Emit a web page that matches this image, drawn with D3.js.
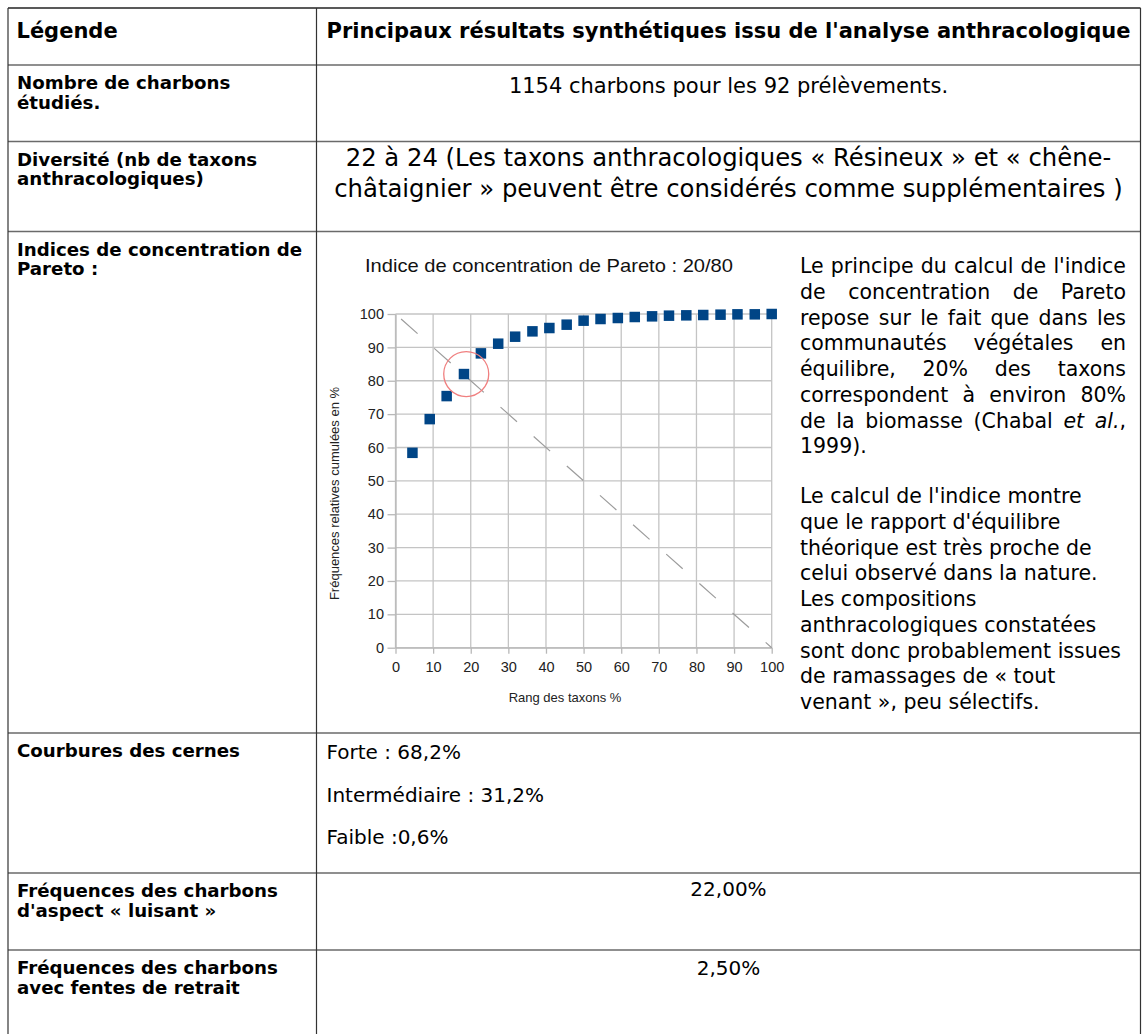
<!DOCTYPE html>
<html>
<head>
<meta charset="utf-8">
<script src="https://cdn.jsdelivr.net/npm/d3@7"></script>
<style>
  body { margin: 0; background: #fff; }
  svg { display: block; }
  .cell text { font-family: "DejaVu Sans", Verdana, sans-serif; fill: #000; }
  .chart text { font-family: "Liberation Sans", Arial, sans-serif; }
</style>
</head>
<body>
<svg id="page" width="1143" height="1034"></svg>
<script>
// Pareto curve
const rankPct = [4.5, 9.1, 13.6, 18.2, 22.7, 27.3, 31.8, 36.4, 40.9, 45.5, 50,
  54.5, 59.1, 63.6, 68.2, 72.7, 77.3, 81.8, 86.4, 90.9, 95.5, 100];
const cumFreq = [58.4, 68.5, 75.4, 82.0, 88.2, 91.1, 93.2, 94.8, 95.8, 96.8, 98.0,
  98.5, 98.8, 99.1, 99.3, 99.5, 99.6, 99.7, 99.8, 99.9, 99.9, 100];
const xTicks = [0, 10, 20, 30, 40, 50, 60, 70, 80, 90, 100];
const yTicks = [0, 10, 20, 30, 40, 50, 60, 70, 80, 90, 100];
const equalLine = [{ x: 0, y: 100 }, { x: 100, y: 0 }];
const highlight = { x: 18.8, y: 82 };

const chartTitle = 'Indice de concentration de Pareto : 20/80';
const xTitle = 'Rang des taxons %';
const yTitle = 'Fréquences relatives cumulées en %';

// table text
const headers = ['Légende', "Principaux résultats synthétiques issu de l'analyse anthracologique"];
const rowLabels = [
  ['Nombre de charbons', 'étudiés.'],
  ['Diversité (nb de taxons', 'anthracologiques)'],
  ['Indices de concentration de', 'Pareto :'],
  ['Courbures des cernes'],
  ['Fréquences des charbons', "d'aspect « luisant »"],
  ['Fréquences des charbons', 'avec fentes de retrait'],
];
const countText = '1154 charbons pour les 92 prélèvements.';
const diversityLines = [
  '22 à 24 (Les taxons anthracologiques « Résineux » et « chêne-',
  'châtaignier » peuvent être considérés comme supplémentaires )',
];
const ringCurvature = ['Forte : 68,2%', 'Intermédiaire : 31,2%', 'Faible :0,6%'];
const shinyFreq = '22,00%';
const crackFreq = '2,50%';
// _x_ marks italic
const noteJustified = [
  "Le principe du calcul de l'indice",
  'de concentration de Pareto',
  'repose sur le fait que dans les',
  'communautés végétales en',
  'équilibre, 20% des taxons',
  'correspondent à environ 80%',
  'de la biomasse (Chabal _et_ _al._,',
];
const noteLast = '1999).';
const note2 = [
  "Le calcul de l'indice montre",
  "que le rapport d'équilibre",
  'théorique est très proche de',
  'celui observé dans la nature.',
  'Les compositions',
  'anthracologiques constatées',
  'sont donc probablement issues',
  'de ramassages de « tout',
  'venant », peu sélectifs.',
];

const svg = d3.select('#page');

// ---- table grid ----
const left = 8, right = 1140.5, colX = 316.5;
const rowLines = [8, 65, 141.5, 231.5, 733, 873, 950];
const cellX = colX + 10;
const midX = (colX + right) / 2;

const grid = svg.append('g');
grid.selectAll('line.row').data(rowLines).join('line')
  .attr('x1', left).attr('x2', right)
  .attr('y1', d => d).attr('y2', d => d)
  .attr('stroke', (d, i) => i === 0 ? '#222' : '#6a6a6a')
  .attr('stroke-width', (d, i) => i === 0 ? 1.3 : 1.6);
grid.selectAll('line.col').data([left, colX, right]).join('line')
  .attr('x1', d => d).attr('x2', d => d)
  .attr('y1', 8).attr('y2', 1034)
  .attr('stroke', '#333').attr('stroke-width', 1.2);

const cell = svg.append('g').attr('class', 'cell');

cell.append('text').attr('x', 16.5).attr('y', 37.5)
  .attr('font-size', 21).attr('font-weight', 'bold').text(headers[0]);
cell.append('text').attr('x', midX).attr('y', 37.5).attr('text-anchor', 'middle')
  .attr('font-size', 21).attr('font-weight', 'bold').text(headers[1]);

rowLabels.forEach((lines, r) => {
  lines.forEach((t, k) => {
    cell.append('text').attr('x', 17).attr('y', rowLines[r + 1] + 24 + k * 19.5)
      .attr('font-size', 18.2).attr('font-weight', 'bold').text(t);
  });
});

cell.append('text').attr('x', midX).attr('y', 93).attr('text-anchor', 'middle')
  .attr('font-size', 21).text(countText);
diversityLines.forEach((t, k) => {
  cell.append('text').attr('x', midX).attr('y', 166 + k * 30.7).attr('text-anchor', 'middle')
    .attr('font-size', 24.3).text(t);
});
ringCurvature.forEach((t, k) => {
  cell.append('text').attr('x', cellX).attr('y', [759, 802, 844][k])
    .attr('font-size', 20).text(t);
});
cell.append('text').attr('x', midX).attr('y', 896).attr('text-anchor', 'middle')
  .attr('font-size', 20).text(shinyFreq);
cell.append('text').attr('x', midX).attr('y', 975).attr('text-anchor', 'middle')
  .attr('font-size', 20).text(crackFreq);

// paragraph next to the chart
const noteX = 800, noteW = 326, noteSize = 20.5, lead = 25.7;
const addRich = (sel, str) => {
  str.split('_').forEach((seg, k) => {
    if (seg) sel.append('tspan').attr('font-style', k % 2 ? 'italic' : null).text(seg);
  });
  return sel;
};
const justify = (line, y) => {
  const words = line.split(' ');
  const nodes = words.map(w => addRich(cell.append('text').attr('y', y).attr('font-size', noteSize), w));
  const widths = nodes.map(n => n.node().getComputedTextLength());
  const gap = (noteW - d3.sum(widths)) / (words.length - 1);
  let cx = noteX;
  nodes.forEach((n, i) => { n.attr('x', cx); cx += widths[i] + gap; });
};
noteJustified.forEach((line, k) => justify(line, 273.3 + k * lead));
cell.append('text').attr('x', noteX).attr('y', 273.3 + noteJustified.length * lead)
  .attr('font-size', noteSize).text(noteLast);
note2.forEach((line, k) => {
  cell.append('text').attr('x', noteX).attr('y', 503.3 + k * lead)
    .attr('font-size', noteSize).text(line);
});

// ---- Pareto chart ----
const x = d3.scaleLinear().domain([0, 100]).range([395.5, 771.7]);
const y = d3.scaleLinear().domain([0, 100]).range([647.7, 314]);
const chart = svg.append('g').attr('class', 'chart');

chart.append('g').selectAll('line').data(yTicks).join('line')
  .attr('x1', x(0)).attr('x2', x(100))
  .attr('y1', d => y(d)).attr('y2', d => y(d))
  .attr('stroke', '#c4c4c4').attr('stroke-width', 1.3);
chart.append('g').selectAll('line').data(xTicks).join('line')
  .attr('y1', y(0)).attr('y2', y(100))
  .attr('x1', d => x(d)).attr('x2', d => x(d))
  .attr('stroke', '#c4c4c4').attr('stroke-width', 1.3);

const yAxis = chart.append('g').attr('transform', `translate(${x(0)},0)`)
  .call(d3.axisLeft(y).tickValues(yTicks).tickSize(8).tickSizeOuter(0).tickPadding(3.5));
const xAxis = chart.append('g').attr('transform', `translate(0,${y(0)})`)
  .call(d3.axisBottom(x).tickValues(xTicks).tickSize(6).tickSizeOuter(0).tickPadding(8));
[yAxis, xAxis].forEach(a => {
  a.select('.domain').attr('stroke', '#b8b8b8').attr('stroke-width', 1.3);
  a.selectAll('.tick line').attr('stroke', '#b8b8b8').attr('stroke-width', 1.3);
  a.selectAll('.tick text').attr('font-size', 14.5).attr('fill', '#222')
    .attr('font-family', '"Liberation Sans", Arial, sans-serif');
});

chart.append('path').datum(equalLine)
  .attr('d', d3.line().x(d => x(d.x)).y(d => y(d.y)))
  .attr('fill', 'none').attr('stroke', '#9c9c9c').attr('stroke-width', 1.2)
  .attr('stroke-dasharray', '22 22.3').attr('stroke-dashoffset', 36.8);

const pts = rankPct.map((r, i) => ({ x: r, y: cumFreq[i] }));
const sq = 10.5;
chart.append('g').selectAll('rect').data(pts).join('rect')
  .attr('x', d => x(d.x) - sq / 2).attr('y', d => y(d.y) - sq / 2)
  .attr('width', sq).attr('height', sq).attr('fill', '#004586');

chart.append('circle').attr('cx', x(highlight.x)).attr('cy', y(highlight.y)).attr('r', 22.5)
  .attr('fill', 'none').attr('stroke', '#f07f7f').attr('stroke-width', 1.3);

chart.append('text').attr('x', 549).attr('y', 271.7).attr('text-anchor', 'middle')
  .attr('font-size', 19).attr('textLength', 368).attr('lengthAdjust', 'spacingAndGlyphs')
  .attr('fill', '#111').text(chartTitle);
chart.append('text').attr('x', 565).attr('y', 701.7).attr('text-anchor', 'middle')
  .attr('font-size', 13).attr('fill', '#222').text(xTitle);
chart.append('text').attr('transform', 'translate(339,493.5) rotate(-90)')
  .attr('text-anchor', 'middle').attr('font-size', 13).attr('fill', '#222').text(yTitle);
</script>
</body>
</html>
